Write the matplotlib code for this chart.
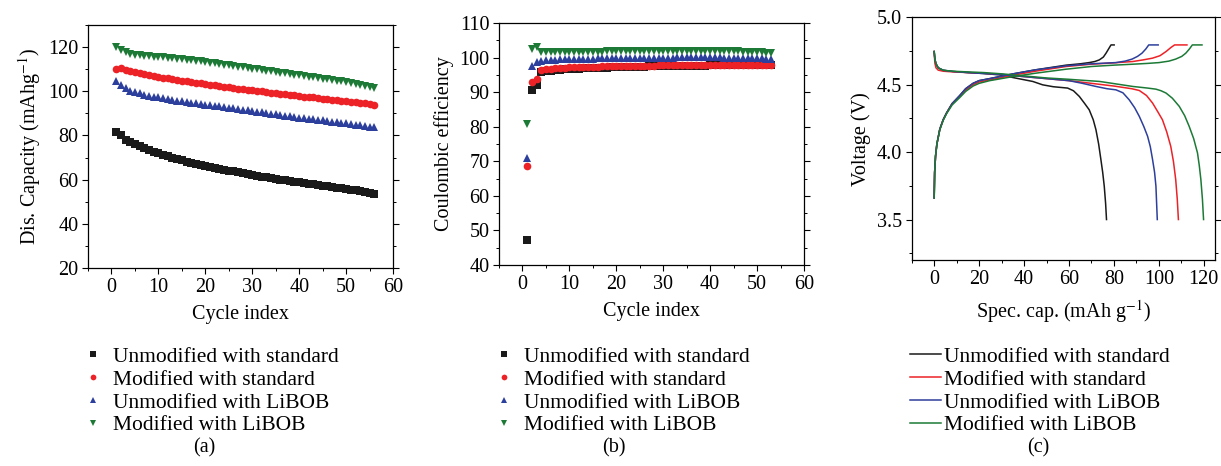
import matplotlib.pyplot as plt
import numpy as np
from matplotlib.ticker import MultipleLocator

plt.rcParams['font.family'] = ['Liberation Serif', 'DejaVu Serif']
plt.rcParams['mathtext.fontset'] = 'stix'

labels = ["Unmodified with standard", "Modified with standard",
          "Unmodified with LiBOB", "Modified with LiBOB"]
colors = ["#1a1a1a", "#ec2227", "#2d3f9c", "#1c7a36"]
markers = ["s", "o", "^", "v"]

# (a) discharge capacity vs cycle, cycles 1..56
cap_unmod_std = [81.5, 80.2, 78.0, 77.0, 76.0, 75.0, 74.2, 73.4, 72.6, 71.9,
                 71.2, 70.5, 69.9, 69.3, 68.7, 68.2, 67.7, 67.2, 66.7, 66.2,
                 65.8, 65.3, 64.9, 64.5, 64.1, 63.7, 63.3, 62.9, 62.5, 62.1,
                 61.8, 61.4, 61.1, 60.7, 60.4, 60.0, 59.7, 59.4, 59.1, 58.8,
                 58.5, 58.2, 57.9, 57.6, 57.3, 57.0, 56.7, 56.4, 56.1, 55.8,
                 55.5, 55.2, 54.9, 54.6, 54.0, 53.5]
cap_mod_std = [110.0, 110.4, 109.6, 109.2, 108.7, 108.2, 107.7, 107.3, 106.9, 106.5,
               106.1, 105.8, 105.4, 105.1, 104.8, 104.5, 104.2, 103.9, 103.6, 103.3,
               103.0, 102.7, 102.4, 102.1, 101.8, 101.5, 101.2, 100.9, 100.6, 100.4,
               100.1, 99.9, 99.6, 99.4, 99.1, 98.9, 98.6, 98.4, 98.1, 97.9,
               97.6, 97.4, 97.2, 96.9, 96.7, 96.5, 96.2, 96.0, 95.8, 95.6,
               95.3, 95.1, 94.9, 94.6, 94.3, 94.0]
cap_unmod_libob = [104.5, 102.8, 101.5, 100.3, 99.6, 99.0, 98.5, 98.0, 97.6, 97.2,
                   96.8, 96.5, 96.1, 95.8, 95.5, 95.2, 94.9, 94.6, 94.3, 94.0,
                   93.7, 93.4, 93.1, 92.8, 92.5, 92.2, 91.9, 91.6, 91.3, 91.0,
                   90.7, 90.4, 90.1, 89.8, 89.5, 89.3, 89.0, 88.7, 88.4, 88.1,
                   87.9, 87.6, 87.3, 87.0, 86.8, 86.5, 86.2, 86.0, 85.7, 85.5,
                   85.2, 84.9, 84.6, 84.3, 84.0, 83.6]
cap_mod_libob = [120.0, 118.5, 117.8, 116.8, 116.5, 116.3, 116.1, 115.9, 115.7, 115.5,
                 115.3, 115.1, 114.9, 114.7, 114.5, 114.3, 114.0, 113.7, 113.5, 113.2,
                 112.9, 112.6, 112.3, 112.0, 111.7, 111.4, 111.1, 110.8, 110.5, 110.2,
                 109.9, 109.6, 109.3, 109.0, 108.7, 108.4, 108.1, 107.8, 107.5, 107.2,
                 106.9, 106.6, 106.3, 106.0, 105.7, 105.4, 105.1, 104.8, 104.5, 104.2,
                 103.8, 103.4, 103.0, 102.6, 102.1, 101.6]

# (b) coulombic efficiency vs cycle, cycles 1..53
ce_unmod_std = [47.3, 90.5, 92.0, 95.7, 96.0, 96.2, 96.4, 96.5, 96.6, 96.7,
                96.8, 96.8, 96.9, 96.9, 97.0, 97.0, 97.1, 97.1, 97.2, 97.2,
                97.3, 97.3, 97.3, 97.4, 97.4, 97.4, 97.5, 97.5, 97.5, 97.5,
                97.6, 97.6, 97.6, 97.6, 97.7, 97.7, 97.7, 97.7, 97.7, 97.8,
                97.8, 97.8, 97.8, 97.8, 97.9, 97.9, 97.9, 97.9, 97.9, 98.0,
                98.0, 98.0, 98.0]
ce_mod_std = [68.7, 93.0, 93.7, 96.3, 96.6, 96.8, 96.9, 97.0, 97.1, 97.2,
              97.2, 97.3, 97.3, 97.4, 97.4, 97.4, 97.5, 97.5, 97.5, 97.6,
              97.6, 97.6, 97.6, 97.7, 97.7, 97.7, 97.7, 97.7, 97.8, 97.8,
              97.8, 97.8, 97.8, 97.8, 97.9, 97.9, 97.9, 97.9, 97.9, 97.9,
              97.9, 98.0, 98.0, 98.0, 98.0, 98.0, 98.0, 98.0, 98.0, 98.0,
              98.0, 98.0, 98.0]
ce_unmod_libob = [71.0, 97.6, 98.6, 99.0, 99.2, 99.3, 99.4, 99.5, 99.5, 99.6,
                  99.6, 99.6, 99.7, 99.7, 99.7, 99.8, 99.8, 99.8, 99.8, 99.9,
                  99.9, 99.9, 99.9, 99.9, 100.0, 100.0, 100.0, 100.0, 100.0, 100.0,
                  100.0, 100.0, 100.1, 100.1, 100.1, 100.1, 100.1, 100.1, 100.1, 100.1,
                  100.1, 100.1, 100.0, 100.0, 100.0, 100.0, 99.9, 99.9, 99.9, 99.8,
                  99.8, 99.7, 99.6]
ce_mod_libob = [80.9, 102.6, 103.0, 101.6, 101.5, 101.5, 101.5, 101.6, 101.6, 101.6,
                101.6, 101.6, 101.6, 101.7, 101.7, 101.7, 101.7, 101.8, 101.8, 101.8,
                101.8, 101.8, 101.8, 101.8, 101.8, 101.8, 101.8, 101.8, 101.9, 101.9,
                101.9, 101.9, 101.9, 101.9, 101.9, 101.9, 101.9, 101.9, 101.9, 101.9,
                101.9, 101.9, 101.9, 101.8, 101.8, 101.8, 101.7, 101.6, 101.6, 101.5,
                101.5, 101.4, 101.3]

# (c) charge / discharge curves: capacity (mAh/g) and voltage (V)
# order: unmodified std, modified std, unmodified LiBOB, modified LiBOB
chg_cap = [
    [0, 0.2, 0.6, 1.2, 2.5, 4, 5.5, 8, 11.4, 14, 17.3, 20, 24.7, 35, 45, 58.7, 65, 69.0, 71.5, 73.5, 75.3, 76.5, 77.8, 78.7, 80.1],
    [0, 0.2, 0.6, 1.2, 2.5, 4, 5.5, 8, 11.4, 14, 17.3, 20, 24.7, 35, 45, 58.7, 70, 80, 88.4, 93, 97.2, 100.5, 103.2, 105.3, 107.0, 112.5],
    [0, 0.2, 0.6, 1.2, 2.5, 4, 5.5, 8, 11.4, 14, 17.3, 20, 24.7, 35, 45, 58.7, 70, 76, 80.9, 85, 88.1, 90.5, 92.5, 94.2, 95.5, 99.7],
    [0, 0.2, 0.6, 1.2, 2.5, 4, 5.5, 8, 11.4, 14, 17.3, 20, 24.7, 35, 45, 58.7, 70, 80, 88.4, 95, 100.1, 104.5, 107.5, 110.2, 112.0, 113.6, 114.9, 119.2],
]
chg_v = [
    [3.66, 3.85, 3.97, 4.06, 4.17, 4.24, 4.29, 4.36, 4.42, 4.47, 4.51, 4.53, 4.545, 4.58, 4.61, 4.645, 4.655, 4.664, 4.672, 4.684, 4.705, 4.734, 4.77, 4.795, 4.795],
    [3.66, 3.85, 3.97, 4.06, 4.17, 4.24, 4.29, 4.36, 4.415, 4.46, 4.5, 4.52, 4.535, 4.57, 4.6, 4.635, 4.652, 4.662, 4.672, 4.684, 4.697, 4.715, 4.746, 4.775, 4.795, 4.795],
    [3.66, 3.85, 3.97, 4.06, 4.17, 4.24, 4.29, 4.36, 4.42, 4.47, 4.51, 4.53, 4.545, 4.58, 4.61, 4.64, 4.655, 4.66, 4.664, 4.675, 4.69, 4.71, 4.734, 4.765, 4.795, 4.795],
    [3.66, 3.85, 3.97, 4.06, 4.165, 4.235, 4.285, 4.35, 4.405, 4.45, 4.49, 4.51, 4.53, 4.56, 4.585, 4.615, 4.635, 4.645, 4.652, 4.658, 4.664, 4.675, 4.69, 4.71, 4.734, 4.765, 4.795, 4.795],
]
dis_cap = [
    [0, 0.3, 0.8, 1.8, 4, 8.4, 15, 22, 29.1, 36, 43.9, 48.3, 53, 59.4, 62, 64.6, 67, 69.0, 70.8, 72.0, 73.2, 74.2, 75.0, 75.7, 76.3, 76.7],
    [0, 0.3, 0.8, 1.8, 4, 8.4, 15, 22, 30.6, 40, 50, 60, 70, 80, 88, 91.3, 94.5, 97.2, 99.5, 101.6, 103.5, 105.3, 106.5, 107.5, 108.2, 108.7],
    [0, 0.3, 0.8, 1.8, 4, 8.4, 15, 22, 30.6, 40, 50, 60, 66, 72.0, 77, 80.9, 84, 86.8, 89.2, 91.3, 93.3, 95.0, 96.2, 97.2, 98.1, 98.7, 99.3],
    [0, 0.3, 0.8, 1.8, 4, 8.4, 15, 22, 30.6, 40, 50, 60, 73.7, 88.4, 95, 98.7, 101, 103.2, 106, 109.1, 111.5, 113.5, 115.5, 117.2, 118.0, 118.7, 119.4, 119.9],
]
dis_v = [
    [4.746, 4.69, 4.655, 4.625, 4.607, 4.598, 4.59, 4.583, 4.573, 4.55, 4.524, 4.499, 4.485, 4.475, 4.455, 4.413, 4.36, 4.314, 4.24, 4.166, 4.06, 3.945, 3.85, 3.747, 3.62, 3.5],
    [4.746, 4.66, 4.625, 4.608, 4.6, 4.595, 4.59, 4.585, 4.575, 4.56, 4.545, 4.53, 4.51, 4.49, 4.47, 4.457, 4.42, 4.364, 4.3, 4.24, 4.15, 4.043, 3.93, 3.797, 3.65, 3.5],
    [4.746, 4.69, 4.655, 4.625, 4.607, 4.598, 4.59, 4.583, 4.575, 4.56, 4.545, 4.53, 4.51, 4.487, 4.47, 4.462, 4.44, 4.388, 4.33, 4.265, 4.19, 4.117, 4.04, 3.945, 3.85, 3.747, 3.5],
    [4.746, 4.69, 4.655, 4.625, 4.607, 4.6, 4.595, 4.59, 4.58, 4.565, 4.55, 4.54, 4.524, 4.487, 4.475, 4.467, 4.455, 4.438, 4.4, 4.339, 4.27, 4.191, 4.1, 3.994, 3.9, 3.797, 3.65, 3.5],
]

cap_series = [cap_unmod_std, cap_mod_std, cap_unmod_libob, cap_mod_libob]
ce_series = [ce_unmod_std, ce_mod_std, ce_unmod_libob, ce_mod_libob]

fig = plt.figure(figsize=(12.21, 4.66), dpi=100)
ax1 = fig.add_axes([0.0721, 0.4249, 0.2498, 0.5215])
ax2 = fig.add_axes([0.4087, 0.4313, 0.2498, 0.5193])
ax3 = fig.add_axes([0.7467, 0.4421, 0.2484, 0.5208])

fs = 14.5


def style(ax):
    ax.tick_params(which="both", direction="out", right=True, top=False,
                   labelsize=fs, pad=3)
    ax.tick_params(which="major", length=4, width=0.8)
    ax.tick_params(which="minor", length=2.5, width=0.7)
    for s in ax.spines.values():
        s.set_linewidth(0.9)


for ys, c, m, lab in zip(cap_series, colors, markers, labels):
    x = np.arange(1, len(ys) + 1)
    ax1.plot(x, ys, ls="none", marker=m, color=c, ms=5.5, mew=0, label=lab)
ax1.set_xlim(-5, 60)
ax1.set_ylim(20, 130)
ax1.set_xticks(np.arange(0, 61, 10))
ax1.set_yticks(np.arange(20, 121, 20))
ax1.xaxis.set_minor_locator(MultipleLocator(5))
ax1.yaxis.set_minor_locator(MultipleLocator(10))
ax1.set_xlabel("Cycle index", fontsize=fs, labelpad=6)
ax1.set_ylabel("Dis. Capacity (mAhg$^{-1}$)", fontsize=fs, labelpad=4)
style(ax1)

for ys, c, m, lab in zip(ce_series, colors, markers, labels):
    x = np.arange(1, len(ys) + 1)
    ax2.plot(x, ys, ls="none", marker=m, color=c, ms=5.5, mew=0, label=lab)
ax2.set_xlim(-5, 60)
ax2.set_ylim(40, 110)
ax2.set_xticks(np.arange(0, 61, 10))
ax2.set_yticks(np.arange(40, 111, 10))
ax2.xaxis.set_minor_locator(MultipleLocator(5))
ax2.yaxis.set_minor_locator(MultipleLocator(5))
ax2.set_xlabel("Cycle index", fontsize=fs, labelpad=6)
ax2.set_ylabel("Coulombic efficiency", fontsize=fs, labelpad=4)
style(ax2)

for i in range(4):
    ax3.plot(chg_cap[i], chg_v[i], color=colors[i], lw=1.1, label=labels[i])
    ax3.plot(dis_cap[i], dis_v[i], color=colors[i], lw=1.1)
ax3.set_xlim(-10, 125)
ax3.set_ylim(3.2, 5.0)
ax3.set_xticks(np.arange(0, 121, 20))
ax3.set_yticks([3.5, 4.0, 4.5, 5.0])
ax3.xaxis.set_minor_locator(MultipleLocator(10))
ax3.yaxis.set_minor_locator(MultipleLocator(0.25))
ax3.set_xlabel("Spec. cap. (mAh g$^{-1}$)", fontsize=fs, labelpad=7)
ax3.set_ylabel("Voltage (V)", fontsize=fs, labelpad=4)
style(ax3)

lfs = 15.5
leg_kw = dict(loc="upper left", frameon=False, fontsize=lfs, borderpad=0,
              borderaxespad=0, labelspacing=0.13)
fig.legend(*ax1.get_legend_handles_labels(), bbox_to_anchor=(0.067, 0.256),
           handlelength=1.0, handletextpad=0.45, markerscale=0.75, **leg_kw)
fig.legend(*ax2.get_legend_handles_labels(), bbox_to_anchor=(0.404, 0.256),
           handlelength=1.0, handletextpad=0.45, markerscale=0.75, **leg_kw)
fig.legend(*ax3.get_legend_handles_labels(), bbox_to_anchor=(0.745, 0.256),
           handlelength=1.45, handletextpad=0.15, **leg_kw)

for xp, t in [(0.167, "(a)"), (0.503, "(b)"), (0.850, "(c)")]:
    fig.text(xp, 0.038, t, ha="center", va="center", fontsize=fs)

fig.savefig("out.png", dpi=100)
